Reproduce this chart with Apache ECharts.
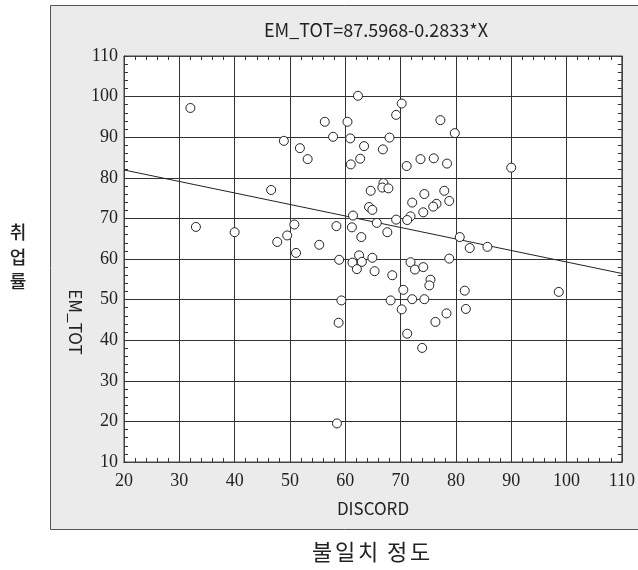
<!DOCTYPE html>
<html>
<head>
<meta charset="utf-8">
<script src="https://cdn.jsdelivr.net/npm/echarts@6/dist/echarts.min.js"></script>
<style>
html,body{margin:0;padding:0;background:#fff;}
#chart{width:638px;height:570px;}
</style>
</head>
<body>
<div id="chart"></div>
<script>
// ---- data ----
const discord = [32.0,48.9,46.6,33.0,40.0,49.5,47.7,50.8,51.1,51.8,53.2,62.3,70.2,69.2,56.3,60.4,77.2,79.8,57.8,60.9,
  68.0,63.4,66.8,62.7,61.0,71.1,73.6,76.0,78.4,66.9,66.7,67.8,64.6,74.3,77.9,78.8,72.1,76.5,75.9,74.1,
  64.3,64.9,61.4,71.8,71.2,69.2,65.7,58.4,61.2,67.6,62.9,80.7,55.3,58.9,62.5,61.3,63.0,64.9,62.1,65.3,
  68.5,71.8,72.6,74.1,78.8,75.4,75.2,70.5,81.6,59.3,68.2,72.1,74.3,70.2,78.3,76.3,58.8,71.2,73.9,58.5,
  81.8,90.0,82.5,85.7,98.6];
const emTot = [97.2,89.1,77.0,67.9,66.6,65.8,64.2,68.5,61.5,87.3,84.6,100.2,98.3,95.5,93.8,93.8,94.2,91.0,90.1,89.7,
  89.9,87.8,87.0,84.7,83.3,82.9,84.6,84.8,83.5,78.7,77.6,77.4,76.8,76.0,76.8,74.3,73.9,73.6,72.9,71.5,
  72.8,72.1,70.7,70.5,69.6,69.7,68.9,68.1,67.8,66.6,65.4,65.4,63.5,59.8,60.9,59.1,59.3,60.3,57.5,57.0,
  56.0,59.2,57.4,58.0,60.1,54.9,53.5,52.4,52.2,49.8,49.8,50.1,50.1,47.6,46.6,44.5,44.3,41.6,38.1,19.5,
  47.7,82.5,62.7,63.0,51.9];
const intercept = 87.5968;
const slope = -0.2833;
const xRange = [20, 110];
const yRange = [10, 110];
const majorStep = 10;
const minorStep = 2;
const titleText = 'EM_TOT=87.5968-0.2833*X';
const xName = 'DISCORD';
const yName = 'EM_TOT';
const outerXChars = ['불', '일', '치', '정', '도'];
const outerY = ['취', '업', '률'];

const points = discord.map((d, i) => [d, emTot[i]]);
const fitLine = xRange.map(x => [x, intercept + slope * x]);

const chart = echarts.init(document.getElementById('chart'), null, {renderer: 'canvas'});

const serif = "'Liberation Serif', 'DejaVu Serif', serif";
const sans = "'Noto Sans CJK KR', 'Noto Sans', sans-serif";

function axisCfg(range, pos, major, margin) {
  return {
    type: 'value', gridIndex: 0, position: pos, min: range[0], max: range[1],
    interval: major ? majorStep : minorStep,
    axisLine: {show: true, onZero: false, lineStyle: {color: '#444', width: 1}},
    axisTick: {show: !major, inside: true, length: 4, lineStyle: {color: '#333', width: 1}},
    splitLine: {show: major, lineStyle: {color: '#333', width: 1}},
    axisLabel: {show: major, color: '#222', fontFamily: serif, fontSize: 18, margin: margin}
  };
}

const option = {
  animation: false,
  backgroundColor: '#fff',
  graphic: [
    {type: 'rect', z: -10, shape: {x: 50.5, y: 5.5, width: 600, height: 524}, style: {fill: '#ebebeb', stroke: '#555', lineWidth: 1}},
    {type: 'text', x: 376, y: 30, style: {text: titleText, font: '18px ' + sans, fill: '#222', textAlign: 'center', textVerticalAlign: 'middle'}},
    {type: 'text', x: 373, y: 509, style: {text: xName, font: '17px ' + sans, fill: '#222', textAlign: 'center', textVerticalAlign: 'middle'}},
    {type: 'text', x: 75, y: 322, rotation: -Math.PI / 2, style: {text: yName, font: '17px ' + sans, fill: '#222', textAlign: 'center', textVerticalAlign: 'middle'}}
  ].concat(
    outerXChars.map((c, i) => ({type: 'text', x: [322, 345, 368, 397, 420][i], y: 552, style: {text: c, font: '22px ' + sans, fill: '#222', textAlign: 'center', textVerticalAlign: 'middle'}})),
    outerY.map((c, i) => ({type: 'text', x: 18, y: [232, 257, 281][i], style: {text: c, font: '500 18px ' + sans, fill: '#222', textAlign: 'center', textVerticalAlign: 'middle'}}))
  ),
  grid: {left: 124, top: 56, width: 505, height: 406, show: true, backgroundColor: '#fff', borderColor: '#444', borderWidth: 1, containLabel: false},
  xAxis: [axisCfg(xRange, 'bottom', true, 10), axisCfg(xRange, 'top', false, 0), axisCfg(xRange, 'bottom', false, 0)],
  yAxis: [axisCfg(yRange, 'left', true, 6), axisCfg(yRange, 'right', false, 0), axisCfg(yRange, 'left', false, 0)],
  series: [
    {
      type: 'line', xAxisIndex: 0, yAxisIndex: 0, data: fitLine, showSymbol: false, symbol: 'none',
      lineStyle: {color: '#222', width: 1}, z: 3, silent: true
    },
    {
      type: 'scatter', xAxisIndex: 0, yAxisIndex: 0, data: points, symbol: 'circle', symbolSize: 9,
      itemStyle: {color: '#fff', borderColor: '#222', borderWidth: 1, opacity: 1}, z: 4
    }
  ]
};
chart.setOption(option);
</script>
</body>
</html>
